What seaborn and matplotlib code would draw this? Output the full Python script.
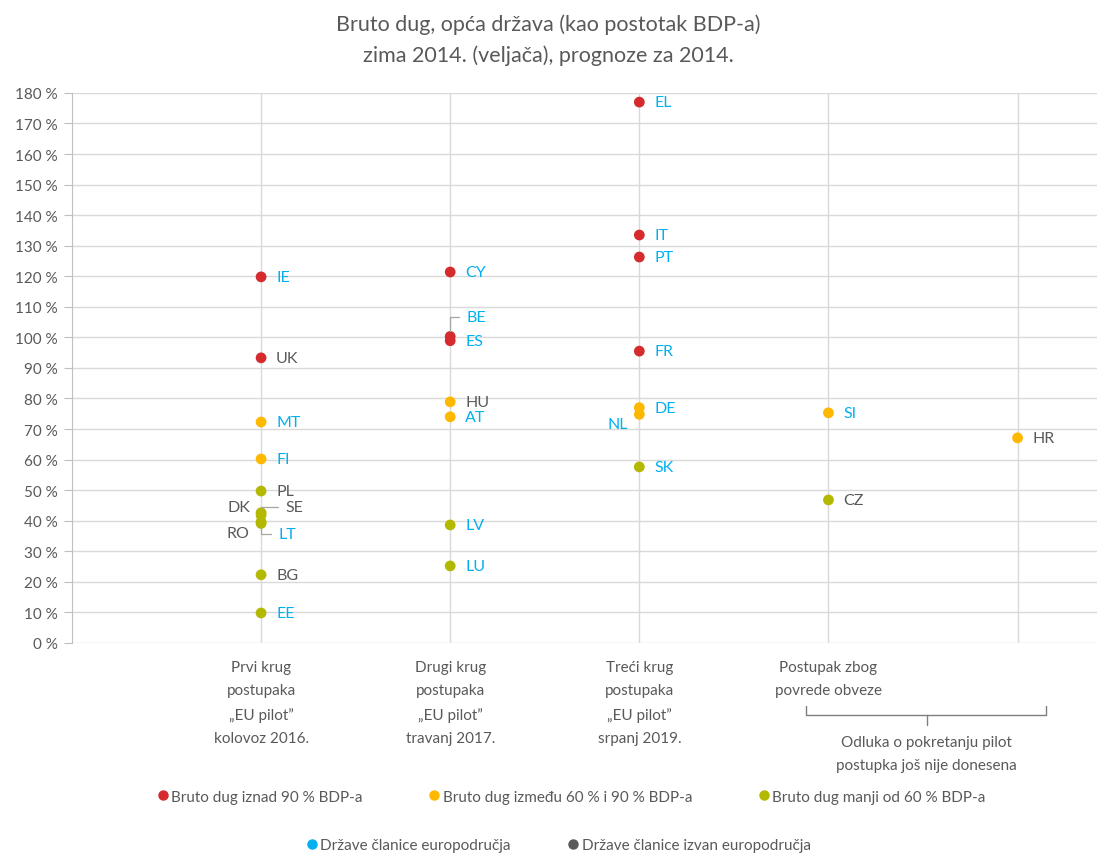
import numpy as np
import pandas as pd
import matplotlib
matplotlib.use('Agg')
import matplotlib.pyplot as plt
from matplotlib.lines import Line2D
import seaborn as sns

# podaci (procjena iz slike)
zemlje = ['IE', 'UK', 'MT', 'FI', 'PL', 'DK', 'SE', 'RO', 'LT', 'BG', 'EE',
          'CY', 'BE', 'ES', 'HU', 'AT', 'LV', 'LU',
          'EL', 'IT', 'PT', 'FR', 'DE', 'NL', 'SK',
          'SI', 'CZ',
          'HR']
krug = [1, 1, 1, 1, 1, 1, 1, 1, 1, 1, 1,
        2, 2, 2, 2, 2, 2, 2,
        3, 3, 3, 3, 3, 3, 3,
        4, 4,
        5]
dug = [119.8, 93.3, 72.3, 60.2, 49.7, 42.6, 41.8, 39.1, 39.6, 22.3, 9.8,
       121.4, 100.3, 98.9, 78.9, 74.0, 38.6, 25.2,
       177.0, 133.5, 126.3, 95.5, 77.0, 74.8, 57.6,
       75.3, 46.8,
       67.1]
eurozona = [True, False, True, True, False, False, False, False, True, False, True,
            True, True, True, False, True, True, True,
            True, True, True, True, True, True, True,
            True, False,
            False]

kategorije = ['Bruto dug iznad 90 % BDP-a', 'Bruto dug između 60 % i 90 % BDP-a',
              'Bruto dug manji od 60 % BDP-a']
boje = ['#D52B2E', '#FFB800', '#B3B800']
skupine = ['Države članice europodručja', 'Države članice izvan europodručja']
boje_oznaka = ['#00B0F0', '#595959']

xt_oznake = ['Prvi krug\npostupaka\n„EU pilot”\nkolovoz 2016.',
             'Drugi krug\npostupaka\n„EU pilot”\ntravanj 2017.',
             'Treći krug\npostupaka\n„EU pilot”\nsrpanj 2019.',
             'Postupak zbog\npovrede obveze']

df = pd.DataFrame({'zemlja': zemlje, 'krug': krug, 'dug': dug, 'euro': eurozona})
df['kat'] = np.where(df['dug'] > 90, kategorije[0],
                     np.where(df['dug'] >= 60, kategorije[1], kategorije[2]))

sns.set_style('whitegrid')
plt.rcParams['font.family'] = ['Lato', 'DejaVu Sans']
siva = '#595959'

fig = plt.figure(figsize=(10.97, 8.54), dpi=100)
ax = fig.add_axes([0.0656, 0.246, 0.9344, 0.644])

sns.scatterplot(data=df, x='krug', y='dug', hue='kat', hue_order=kategorije,
                palette=boje, s=60, edgecolor='none', legend=False, ax=ax, zorder=3)

# posebni pomaci oznaka (u px): (dx, dy, ha, spojnica)
pomaci = {'DK': (-11, 6, 'right', False), 'SE': (24, 8, 'left', True),
          'RO': (-12, -10, 'right', False), 'LT': (17, -12, 'left', True),
          'BE': (16, 19, 'left', True), 'NL': (-11, -10, 'right', False)}

for _, r in df.iterrows():
    dx, dy, ha, spoj = pomaci.get(r['zemlja'], (15, 0, 'left', False))
    boja = boje_oznaka[0] if r['euro'] else boje_oznaka[1]
    ap = None
    if spoj:
        ap = dict(arrowstyle='-', color='#A6A6A6', lw=0.9, relpos=(0, 0.5),
                  connectionstyle='angle,angleA=0,angleB=90,rad=0',
                  shrinkA=3, shrinkB=4)
    ax.annotate(r['zemlja'], (r['krug'], r['dug']), xytext=(dx * 0.72, dy * 0.72),
                textcoords='offset points', ha=ha, va='center', fontsize=11.5,
                color=boja, arrowprops=ap, zorder=4)

ax.set_xlim(0, 5.42)
ax.set_ylim(0, 180)
ax.set_yticks(np.arange(0, 181, 10))
ax.set_yticklabels([f'{v} %' for v in range(0, 181, 10)])
ax.set_xticks([1, 2, 3, 4, 5])
ax.set_xticklabels(xt_oznake + [''], linespacing=1.85)
ax.tick_params(axis='x', length=0, pad=12, labelsize=11, labelcolor=siva)
ax.tick_params(axis='y', length=6, width=0.8, color='#BFBFBF', pad=4,
               labelsize=11, labelcolor=siva, left=True)
ax.grid(color='#D9D9D9', lw=1)
for s in ['top', 'right', 'bottom']:
    ax.spines[s].set_visible(False)
ax.spines['left'].set_color('#BFBFBF')
ax.set_xlabel('')
ax.set_ylabel('')

# zagrada ispod kategorija 4 i 5
trans = ax.get_xaxis_transform()
sredina = 4.52
lijevo, desno = 3.88, 5.15
yb, yv = -0.115, -0.131
ax.plot([lijevo, lijevo, desno, desno], [yb, yv, yv, yb], color='#7F7F7F',
        lw=1, transform=trans, clip_on=False)
ax.plot([sredina, sredina], [yv, yv - 0.018], color='#7F7F7F', lw=1,
        transform=trans, clip_on=False)
ax.text(sredina, yv - 0.036, 'Odluka o pokretanju pilot\npostupka još nije donesena',
        transform=trans, ha='center', va='top', fontsize=11, color=siva,
        linespacing=1.85)

fig.suptitle('Bruto dug, opća država (kao postotak BDP-a)\nzima 2014. (veljača), prognoze za 2014.',
             y=0.983, fontsize=15.5, color=siva, linespacing=1.65)

h1 = [Line2D([], [], marker='o', ls='', color=c, markersize=6.5) for c in boje]
fig.legend(h1, kategorije, loc='center', bbox_to_anchor=(0.52, 0.066), ncol=3,
           frameon=False, fontsize=11, labelcolor=siva, handletextpad=0.05,
           columnspacing=4.2, handlelength=1)
h2 = [Line2D([], [], marker='o', ls='', color=c, markersize=6.5) for c in boje_oznaka]
fig.legend(h2, skupine, loc='center', bbox_to_anchor=(0.508, 0.009), ncol=2,
           frameon=False, fontsize=11, labelcolor=siva, handletextpad=0.05,
           columnspacing=3.6, handlelength=1)

fig.savefig('out.png', dpi=100)
